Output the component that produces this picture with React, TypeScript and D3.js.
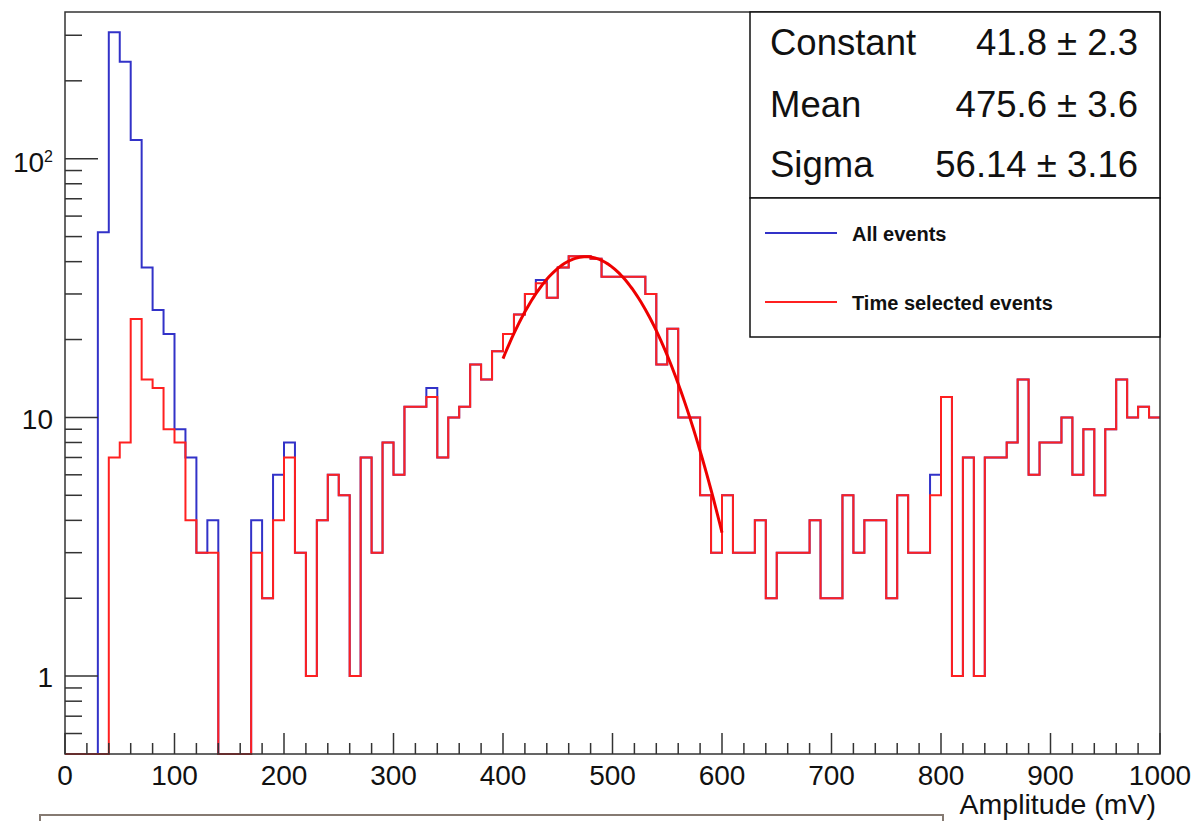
import React, { useEffect, useRef } from 'react'
import * as d3 from 'd3'

// histogram bins are 10 mV wide, 0 .. 1000 mV
const binWidth = 10
const allEvents = [
  0, 0, 0, 52, 308, 237, 118, 38, 26, 21,
  9, 7, 3, 4, 0, 0, 0, 4, 2, 6,
  8, 3, 1, 4, 6, 5, 1, 7, 3, 8,
  6, 11, 11, 13, 7, 10, 11, 16, 14, 18,
  21, 25, 30, 34, 29, 38, 42, 42, 41, 35,
  35, 35, 35, 30, 16, 22, 10, 10, 5, 3,
  5, 3, 3, 4, 2, 3, 3, 3, 4, 2,
  2, 5, 3, 4, 4, 2, 5, 3, 3, 6,
  12, 1, 7, 1, 7, 7, 8, 14, 6, 8,
  8, 10, 6, 9, 5, 9, 14, 10, 11, 10,
]
const timeSelected = [
  0, 0, 0, 0, 7, 8, 24, 14, 13, 9,
  8, 4, 3, 3, 0, 0, 0, 3, 2, 4,
  7, 3, 1, 4, 6, 5, 1, 7, 3, 8,
  6, 11, 11, 12, 7, 10, 11, 16, 14, 18,
  21, 25, 30, 33, 29, 38, 42, 42, 41, 35,
  35, 35, 35, 30, 16, 22, 10, 10, 5, 3,
  5, 3, 3, 4, 2, 3, 3, 3, 4, 2,
  2, 5, 3, 4, 4, 2, 5, 3, 3, 5,
  12, 1, 7, 1, 7, 7, 8, 14, 6, 8,
  8, 10, 6, 9, 5, 9, 14, 10, 11, 10,
]

// gaussian fit (from the stats box), drawn over 400..600 mV
const fitConstant = 41.8
const fitMean = 475.6
const fitSigma = 56.14
const fitRange = [400, 600]

const statsLabels = ['Constant', 'Mean', 'Sigma']
const statsValues = ['41.8 \u00b1 2.3', '475.6 \u00b1 3.6', '56.14 \u00b1 3.16']
const legendLabels = ['All events', 'Time selected events']
const xTickLabels = d3.range(0, 1001, 100)

const BLUE = '#3232c8'
const RED = '#ff2020'
const FONT = '"Liberation Sans", Arial, Helvetica, sans-serif'

const App = () => {
  const ref = useRef<SVGSVGElement>(null)

  useEffect(() => {
    const width = 1194, height = 821
    const left = 65, right = 1160, top = 12, bottom = 754
    const yMin = 0.5, yMax = 369

    const x = d3.scaleLinear().domain([0, 1000]).range([left, right])
    const y = d3.scaleLog().domain([yMin, yMax]).range([bottom, top]).clamp(true)

    const svg = d3.select(ref.current)
      .attr('width', width)
      .attr('height', height)
    svg.selectAll('*').remove()

    svg.append('rect').attr('width', width).attr('height', height).attr('fill', 'white')

    const step = d3.line<[number, number]>()
      .x(d => x(d[0]))
      .y(d => y(d[1] > 0 ? d[1] : yMin))
      .curve(d3.curveStepAfter)

    const toPoints = (counts: number[]) => {
      const pts: [number, number][] = counts.map((c, i) => [i * binWidth, c])
      pts.push([counts.length * binWidth, counts[counts.length - 1]])
      return pts
    }

    svg.append('path')
      .datum(toPoints(allEvents))
      .attr('fill', 'none')
      .attr('stroke', BLUE)
      .attr('stroke-width', 2)
      .attr('d', step)

    svg.append('path')
      .datum(toPoints(timeSelected))
      .attr('fill', 'none')
      .attr('stroke', RED)
      .attr('stroke-width', 2)
      .attr('d', step)

    // fit curve
    const gaus = (v: number) => fitConstant * Math.exp(-0.5 * ((v - fitMean) / fitSigma) ** 2)
    const fitLine = d3.line<number>()
      .x(d => x(d))
      .y(d => y(gaus(d)))
    svg.append('path')
      .datum(d3.range(fitRange[0], fitRange[1] + 0.1, 2))
      .attr('fill', 'none')
      .attr('stroke', '#ee0000')
      .attr('stroke-width', 3)
      .attr('d', fitLine)

    // frame
    svg.append('rect')
      .attr('x', left).attr('y', top)
      .attr('width', right - left).attr('height', bottom - top)
      .attr('fill', 'none')
      .attr('stroke', '#333')
      .attr('stroke-width', 1.5)

    // x ticks, pointing inwards
    const xt = svg.append('g')
    d3.range(0, 1001, 20).forEach(v => {
      const major = v % 100 === 0
      xt.append('line')
        .attr('x1', x(v)).attr('x2', x(v))
        .attr('y1', bottom).attr('y2', bottom - (major ? 21 : 11))
        .attr('stroke', '#333').attr('stroke-width', 1.5)
    })
    xt.selectAll('text')
      .data(xTickLabels)
      .enter()
      .append('text')
      .attr('x', d => x(d))
      .attr('y', 785)
      .attr('text-anchor', 'middle')
      .attr('font-family', FONT)
      .attr('font-size', 28)
      .attr('fill', '#111')
      .text(d => d)

    svg.append('text')
      .attr('x', 1156).attr('y', 814)
      .attr('text-anchor', 'end')
      .attr('font-family', FONT)
      .attr('font-size', 28.5)
      .attr('fill', '#111')
      .text('Amplitude (mV)')

    // y ticks (log)
    const yt = svg.append('g')
    const yTickVals = [0.6, 0.7, 0.8, 0.9, 1, 2, 3, 4, 5, 6, 7, 8, 9, 10,
      20, 30, 40, 50, 60, 70, 80, 90, 100, 200, 300]
    yTickVals.forEach(v => {
      const major = Math.abs(Math.log10(v) - Math.round(Math.log10(v))) < 1e-9
      yt.append('line')
        .attr('x1', left).attr('x2', left + (major ? 33 : 17))
        .attr('y1', y(v)).attr('y2', y(v))
        .attr('stroke', '#333').attr('stroke-width', 1.5)
    })
    yt.append('text')
      .attr('x', 53).attr('y', y(1) + 11)
      .attr('text-anchor', 'end')
      .attr('font-family', FONT).attr('font-size', 28).attr('fill', '#111')
      .text('1')
    yt.append('text')
      .attr('x', 53).attr('y', y(10) + 12)
      .attr('text-anchor', 'end')
      .attr('font-family', FONT).attr('font-size', 28).attr('fill', '#111')
      .text('10')
    const t100 = yt.append('text')
      .attr('x', 53).attr('y', y(100) + 13)
      .attr('text-anchor', 'end')
      .attr('font-family', FONT).attr('font-size', 28).attr('fill', '#111')
    t100.append('tspan').text('10')
    t100.append('tspan').attr('font-size', 16).attr('dy', -10).text('2')

    // stats box
    const sx = 750, sw = right - sx
    svg.append('rect')
      .attr('x', sx).attr('y', top).attr('width', sw).attr('height', 198 - top)
      .attr('fill', 'white').attr('stroke', '#111').attr('stroke-width', 1.5)
    const statBase = [55, 117, 177]
    statsLabels.forEach((s, i) => {
      svg.append('text')
        .attr('x', 770).attr('y', statBase[i])
        .attr('font-family', FONT).attr('font-size', 36.5).attr('fill', '#111')
        .text(s)
      svg.append('text')
        .attr('x', 1138).attr('y', statBase[i])
        .attr('text-anchor', 'end')
        .attr('font-family', FONT).attr('font-size', 36.5).attr('fill', '#111')
        .text(statsValues[i])
    })

    // legend
    svg.append('rect')
      .attr('x', sx).attr('y', 198).attr('width', sw).attr('height', 139)
      .attr('fill', 'white').attr('stroke', '#111').attr('stroke-width', 1.5)
    const legendColors = [BLUE, RED]
    const legendY = [233, 302]
    legendLabels.forEach((s, i) => {
      svg.append('line')
        .attr('x1', 765).attr('x2', 837)
        .attr('y1', legendY[i]).attr('y2', legendY[i])
        .attr('stroke', legendColors[i]).attr('stroke-width', 2)
      svg.append('text')
        .attr('x', 852).attr('y', legendY[i] + 8)
        .attr('font-family', FONT).attr('font-size', 20).attr('font-weight', 'bold')
        .attr('fill', '#111')
        .text(s)
    })

    // partially visible box at the bottom of the canvas
    svg.append('rect')
      .attr('x', 40).attr('y', 815).attr('width', 903).attr('height', 30)
      .attr('fill', 'white').attr('stroke', '#857a72').attr('stroke-width', 2)

    return () => { svg.selectAll('*').remove() }
  }, [])

  return (
    <svg ref={ref} style={{ position: 'absolute', left: 0, top: 0, display: 'block' }} />
  )
}

export default App
